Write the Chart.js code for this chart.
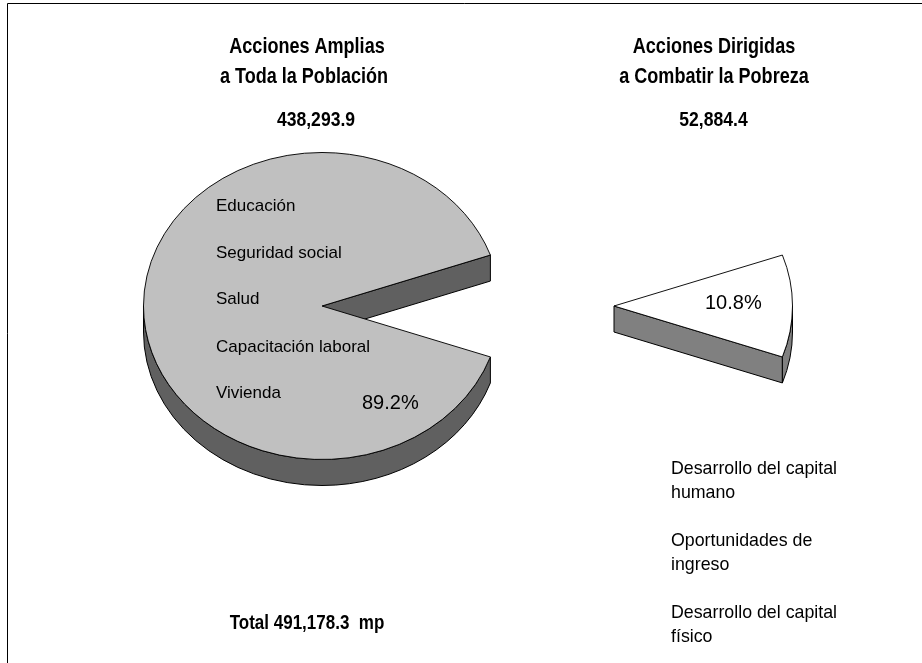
<!DOCTYPE html>
<html><head><meta charset="utf-8">
<script src="https://cdn.jsdelivr.net/npm/chart.js@4/dist/chart.umd.min.js"></script>
<style>html,body{margin:0;padding:0;background:#fff}#wrap{width:922px;height:663px;position:relative}canvas{display:block}</style>
</head><body><div id="wrap"><canvas id="c" width="922" height="663"></canvas></div>
<script>
// ---- data ----
const categories = ['Acciones Amplias a Toda la Población', 'Acciones Dirigidas a Combatir la Pobreza'];
const values = [438293.9, 52884.4];
const percentLabels = ['89.2%', '10.8%'];
const valueLabels = ['438,293.9', '52,884.4'];
const titleLines = [['Acciones Amplias', 'a Toda la Población'], ['Acciones Dirigidas', 'a Combatir la Pobreza']];
const broadItems = ['Educación', 'Seguridad social', 'Salud', 'Capacitación laboral', 'Vivienda'];
const targetedItems = [['Desarrollo del capital', 'humano'], ['Oportunidades de', 'ingreso'], ['Desarrollo del capital', 'físico']];
const totalLabel = 'Total 491,178.3  mp';

// ---- styling ----
const TOP_COLORS = ['#C0C0C0', '#FFFFFF'];
const SIDE_COLORS = ['#606060', '#808080'];
const DEPTH = 26, TILT = 0.86, EXPLODE = 292;
const SANS = '"Liberation Sans", Arial, sans-serif';

const total = values.reduce((a, b) => a + b, 0);
const rotationDeg = 90 + (values[1] / total) * 180; // centre the small slice on the right

const explodePlugin = {
  id: 'explode',
  afterUpdate(chart) {
    const arc = chart.getDatasetMeta(0).data[1];
    const mid = (arc.startAngle + arc.endAngle) / 2;
    arc.x += EXPLODE * Math.cos(mid);
    arc.y += EXPLODE * Math.sin(mid) * TILT;
  }
};

const pie3dPlugin = {
  id: 'pie3d',
  beforeDatasetsDraw(chart) {
    const ctx = chart.ctx;
    const meta = chart.getDatasetMeta(0);
    meta.data.forEach((arc, i) => {
      const { x, y, startAngle: s, endAngle: e, outerRadius: R } = arc;
      const ry = R * TILT;
      const P = a => [x + R * Math.cos(a), y + ry * Math.sin(a)];
      ctx.save();
      ctx.fillStyle = SIDE_COLORS[i];
      ctx.strokeStyle = '#000';
      ctx.lineWidth = 1;
      ctx.lineJoin = 'round';
      const faces = [];
      if (Math.cos(s) < 0) faces.push(s);
      if (Math.cos(e) > 0) faces.push(e);
      faces.forEach(a => {
        const p = P(a);
        ctx.beginPath();
        ctx.moveTo(x, y);
        ctx.lineTo(p[0], p[1]);
        ctx.lineTo(p[0], p[1] + DEPTH);
        ctx.lineTo(x, y + DEPTH);
        ctx.closePath();
        ctx.fill(); ctx.stroke();
      });
      for (let k = -1; k <= 2; k++) {
        const lo = Math.max(s, 2 * Math.PI * k), hi = Math.min(e, 2 * Math.PI * k + Math.PI);
        if (hi > lo) {
          ctx.beginPath();
          ctx.ellipse(x, y, R, ry, 0, lo, hi, false);
          ctx.ellipse(x, y + DEPTH, R, ry, 0, hi, lo, true);
          ctx.closePath();
          ctx.fill(); ctx.stroke();
        }
      }
      ctx.restore();
    });
    const cy = meta.data[0].y;
    ctx.save();
    ctx.translate(0, cy);
    ctx.scale(1, TILT);
    ctx.translate(0, -cy);
  },
  afterDatasetsDraw(chart) {
    chart.ctx.restore();
  }
};

function txt(ctx, s, x, y, font, align, sx) {
  ctx.save();
  ctx.font = font;
  ctx.textAlign = align;
  ctx.textBaseline = 'alphabetic';
  ctx.translate(x, y);
  ctx.scale(sx || 1, 1);
  ctx.fillText(s, 0, 0);
  ctx.restore();
}

const textPlugin = {
  id: 'texts',
  afterDraw(chart) {
    const ctx = chart.ctx;
    ctx.save();
    ctx.fillStyle = '#000';
    // frame
    ctx.strokeStyle = '#000';
    ctx.lineWidth = 1;
    ctx.beginPath();
    ctx.moveTo(7.5, 663); ctx.lineTo(7.5, 3.5); ctx.lineTo(922, 3.5);
    ctx.stroke();
    const bold = 'bold 22px ' + SANS;
    // titles
    txt(ctx, titleLines[0][0], 307, 53, bold, 'center', 0.82);
    txt(ctx, titleLines[0][1], 304, 82.5, bold, 'center', 0.82);
    txt(ctx, titleLines[1][0], 714, 53, bold, 'center', 0.82);
    txt(ctx, titleLines[1][1], 714, 82.5, bold, 'center', 0.82);
    txt(ctx, valueLabels[0], 316, 126, 'bold 19.5px ' + SANS, 'center', 0.9);
    txt(ctx, valueLabels[1], 713.5, 126, 'bold 19.5px ' + SANS, 'center', 0.9);
    txt(ctx, totalLabel, 307, 629, 'bold 21px ' + SANS, 'center', 0.81);
    // items of the broad slice
    const itemBase = [211, 258, 304, 352, 398];
    broadItems.forEach((s, i) => txt(ctx, s, 216, itemBase[i], '17px ' + SANS, 'left'));
    // percentages
    txt(ctx, percentLabels[0], 362, 409, '20px ' + SANS, 'left');
    txt(ctx, percentLabels[1], 705, 309, '20px ' + SANS, 'left');
    // targeted items
    const tBase = [474, 546, 618];
    targetedItems.forEach((lines, i) => {
      lines.forEach((s, j) => txt(ctx, s, 671, tBase[i] + j * 24, '17.8px ' + SANS, 'left'));
    });
    ctx.restore();
  }
};

new Chart(document.getElementById('c'), {
  type: 'pie',
  data: {
    labels: categories,
    datasets: [{
      data: values,
      backgroundColor: TOP_COLORS,
      borderColor: '#000',
      borderWidth: 1,
      clip: false
    }]
  },
  options: {
    responsive: false,
    animation: false,
    events: [],
    rotation: rotationDeg,
    layout: { padding: { left: 143, right: 421, top: 127, bottom: 178 } },
    plugins: { legend: { display: false }, tooltip: { enabled: false }, title: { display: false } }
  },
  plugins: [explodePlugin, pie3dPlugin, textPlugin]
});
</script>
</body></html>
